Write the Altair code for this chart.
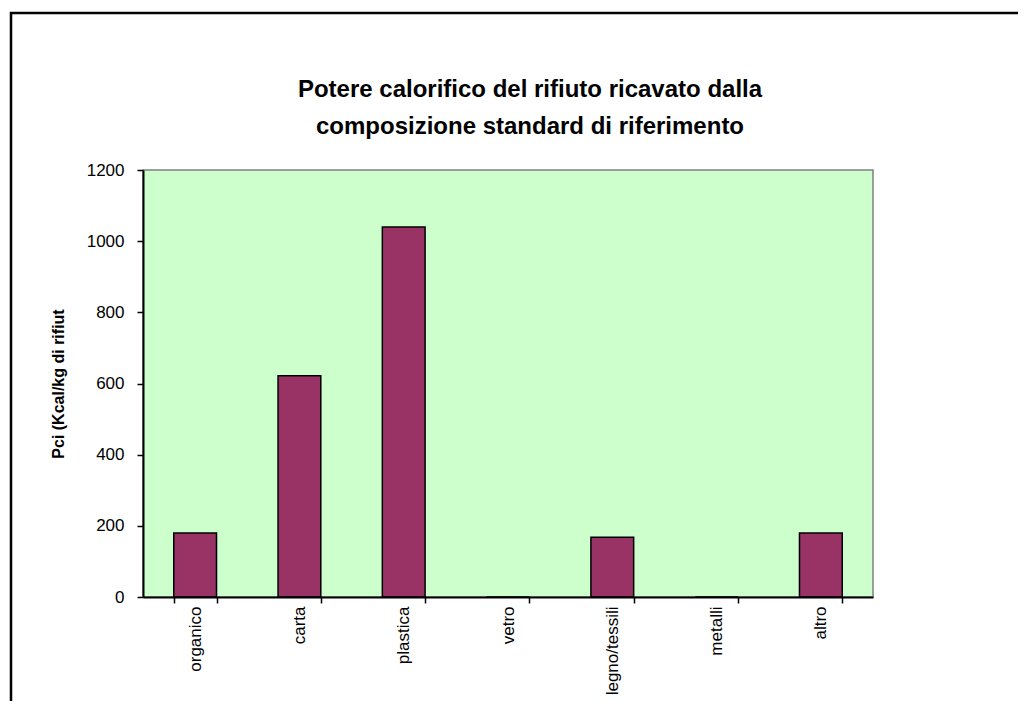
import altair as alt
import pandas as pd

categories = ["organico", "carta", "plastica", "vetro", "legno/tessili", "metalli", "altro"]
values = [180, 622, 1040, 0, 168, 0, 180]
y_ticks = [0, 200, 400, 600, 800, 1000, 1200]
title_lines = ["Potere calorifico del rifiuto ricavato dalla",
               "composizione standard di riferimento"]
y_title = "Pci (Kcal/kg di rifiut"

df = pd.DataFrame({"cat": categories, "val": values})
W, H = 730, 427
FONT = "Liberation Sans"

bars = alt.Chart(df).mark_bar(
    color="#993366", stroke="black", strokeWidth=1.5
).encode(
    x=alt.X(
        "cat:N", sort=categories,
        scale=alt.Scale(paddingInner=0.59, paddingOuter=0.295),
        axis=alt.Axis(
            title=None, labelAngle=270, labelAlign="right", labelBaseline="middle",
            labelFont=FONT, labelFontSize=17, labelColor="black",
            tickBand="extent", tickSize=6, tickWidth=1.5, tickColor="black",
            domainColor="black", domainWidth=2, labelPadding=3, zindex=1,
        ),
    ),
    y=alt.Y(
        "val:Q",
        scale=alt.Scale(domain=[0, 1200], nice=False),
        axis=alt.Axis(
            values=y_ticks, title=y_title, grid=False, format="d",
            labelFont=FONT, labelFontSize=17, labelColor="black", labelPadding=13,
            tickSize=6, tickWidth=1.5, tickColor="black",
            domainColor="black", domainWidth=2,
            titleFont=FONT, titleFontSize=16, titleFontWeight="bold", titleColor="black",
            titlePadding=20, zindex=1,
        ),
    ),
)

frame = alt.Chart(alt.Data(values=[{}])).mark_rect(
    fill="transparent", stroke="black", strokeWidth=2.5
).encode(
    x=alt.value(-132), x2=alt.value(W + 160),
    y=alt.value(-157), y2=alt.value(H + 160),
)

title = alt.Chart(alt.Data(values=[{}])).mark_text(
    font=FONT, fontSize=24, fontWeight="bold", color="black",
    align="center", baseline="alphabetic", lineHeight=37,
).encode(
    x=alt.value(387), y=alt.value(-73), text=alt.value(title_lines),
)

chart = alt.layer(frame, bars, title).properties(
    width=W, height=H,
    autosize=alt.AutoSizeParams(type="none"),
    padding={"left": 135, "top": 162, "right": 145, "bottom": 104},
    background="white",
).configure_view(
    fill="#CCFFCC", stroke="#808080", strokeWidth=1.5
)

chart.save("out.html", embed_options={"renderer": "svg", "actions": False})
